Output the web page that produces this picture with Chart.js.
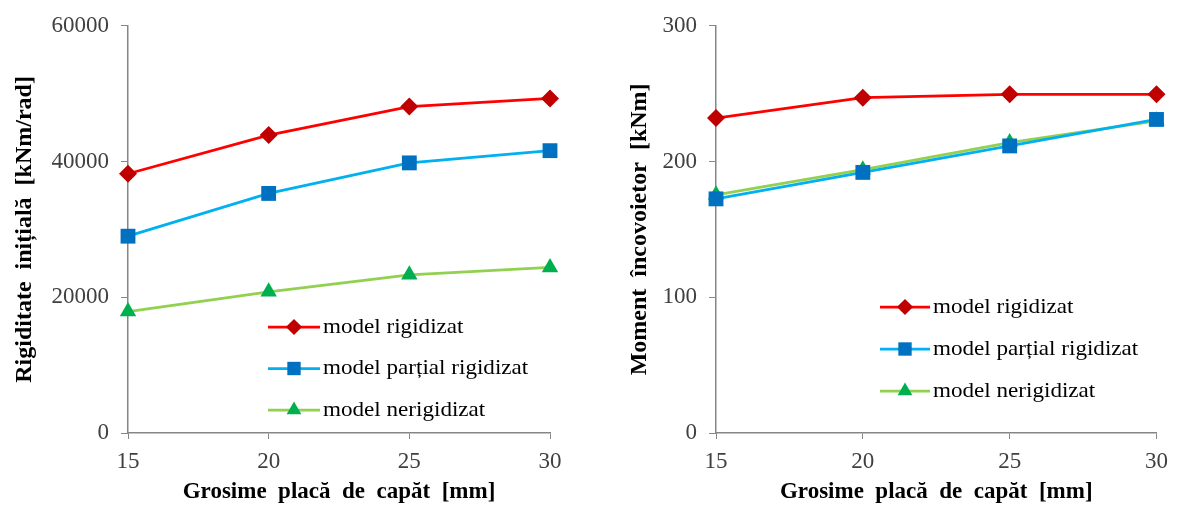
<!DOCTYPE html>
<html>
<head>
<meta charset="utf-8">
<script src="https://cdn.jsdelivr.net/npm/chart.js@4"></script>
<style>
  html, body { margin: 0; padding: 0; background: #fff; }
  #wrap { position: relative; width: 1177px; height: 511px; }
  canvas { position: absolute; top: 0; }
  #c-rig { left: 0; }
  #c-mom { left: 590px; }
</style>
</head>
<body>
<div id="wrap">
  <canvas id="c-rig" width="580" height="511"></canvas>
  <canvas id="c-mom" width="587" height="511"></canvas>
</div>
<script>
/* ── Datos ── */
const grosimi = [15, 20, 25, 30];           // mm
const xTicks  = [15, 20, 25, 30];

const etichete = ["model rigidizat", "model parțial rigidizat", "model nerigidizat"];

// Rigiditate inițială [kNm/rad]
const rigRigidizat   = [38200, 43900, 48100, 49300];
const rigPartial     = [29000, 35300, 39800, 41600];
const rigNerigidizat = [17900, 20800, 23300, 24400];

// Moment încovoietor [kNm]
const momRigidizat   = [232, 247, 249.5, 249.5];
const momPartial     = [172.5, 192, 211.5, 231];
const momNerigidizat = [175.5, 194, 214, 230];

/* ── Estilo ── */
const SERIF = "'Liberation Serif', 'Times New Roman', serif";
const estilos = [
  { line: "#ff0000", mark: "#c00000", style: "rectRot",  r: 9 },
  { line: "#00b0f0", mark: "#0070c0", style: "rect",     r: 10.5 },
  { line: "#92d050", mark: "#00b050", style: "triangle", r: 9.5 },
];

function serie(i, valores) {
  const e = estilos[i];
  return {
    label: etichete[i],
    data: grosimi.map((x, k) => ({ x, y: valores[k] })),
    borderColor: e.line,
    borderWidth: 2.75,
    backgroundColor: e.mark,
    pointBackgroundColor: e.mark,
    pointBorderColor: e.mark,
    pointBorderWidth: 0,
    pointStyle: e.style,
    pointRadius: e.r,
    tension: 0,
    clip: false,
  };
}

/* ── Leyenda dibujada dentro del área ── */
const leyenda = {
  id: "leyenda",
  afterDatasetsDraw(chart, args, opt) {
    const c = chart.ctx;
    c.save();
    chart.data.datasets.forEach((ds, i) => {
      const y = opt.y + i * opt.gap;
      c.strokeStyle = ds.borderColor;
      c.lineWidth = 2.75;
      c.beginPath();
      c.moveTo(opt.x, y);
      c.lineTo(opt.x + opt.len, y);
      c.stroke();
      c.fillStyle = ds.pointBackgroundColor;
      c.strokeStyle = ds.pointBackgroundColor;
      Chart.helpers.drawPoint(c, {
        pointStyle: ds.pointStyle, radius: ds.pointRadius * 0.9, rotation: 0, borderWidth: 0,
      }, opt.x + opt.len / 2, y);
      // texto algo ensanchado, como en el original
      c.save();
      c.translate(opt.x + opt.len + 3, y);
      c.scale(1.1, 1);
      c.fillStyle = "#000";
      c.font = "21px " + SERIF;
      c.textBaseline = "middle";
      c.textAlign = "left";
      c.fillText(ds.label, 0, 0);
      c.restore();
    });
    c.restore();
  },
};

function crear(id, datasets, yMax, yStep, yTitulo, yW, titPad, leg) {
  return new Chart(document.getElementById(id), {
    type: "line",
    data: { datasets },
    plugins: [leyenda],
    options: {
      responsive: false,
      animation: false,
      layout: { padding: { top: 23, right: leg.right, left: 0, bottom: 0 } },
      plugins: {
        legend: { display: false },
        tooltip: { enabled: false },
        leyenda: leg,
      },
      scales: {
        x: {
          type: "linear",
          min: 15, max: 30,
          afterBuildTicks: s => { s.ticks = xTicks.map(v => ({ value: v })); },
          afterFit: s => { s.height = 78; },
          grid: { drawOnChartArea: false, drawTicks: true, tickLength: 6, color: "#868686" },
          border: { color: "#868686", width: 1.5 },
          ticks: { color: "#404040", padding: 9, font: { family: SERIF, size: 23 } },
          title: {
            display: true, text: "Grosime  placă  de  capăt  [mm]", color: "#000",
            font: { family: SERIF, size: 23, weight: "bold" }, padding: { top: 0, bottom: 5 },
          },
        },
        y: {
          min: 0, max: yMax,
          ticks: {
            stepSize: yStep, color: "#404040", padding: 12, font: { family: SERIF, size: 23 },
            callback: v => String(v),
          },
          afterFit: s => { s.width = yW; },
          grid: { drawOnChartArea: false, drawTicks: true, tickLength: 7, color: "#868686" },
          border: { color: "#868686", width: 1.5 },
          title: {
            display: true, text: yTitulo, color: "#000",
            font: { family: SERIF, size: 24, weight: "bold" }, padding: { top: titPad, bottom: 0 },
          },
        },
      },
    },
  });
}

crear("c-rig",
  [serie(0, rigRigidizat), serie(1, rigPartial), serie(2, rigNerigidizat)],
  60000, 20000, "Rigiditate  inițială  [kNm/rad]", 128, 10,
  { x: 268, y: 327, gap: 41.5, len: 52, right: 30 });

crear("c-mom",
  [serie(0, momRigidizat), serie(1, momPartial), serie(2, momNerigidizat)],
  300, 100, "Moment  încovoietor  [kNm]", 126, 35,
  { x: 290, y: 307, gap: 42, len: 50, right: 15 });
</script>
</body>
</html>
